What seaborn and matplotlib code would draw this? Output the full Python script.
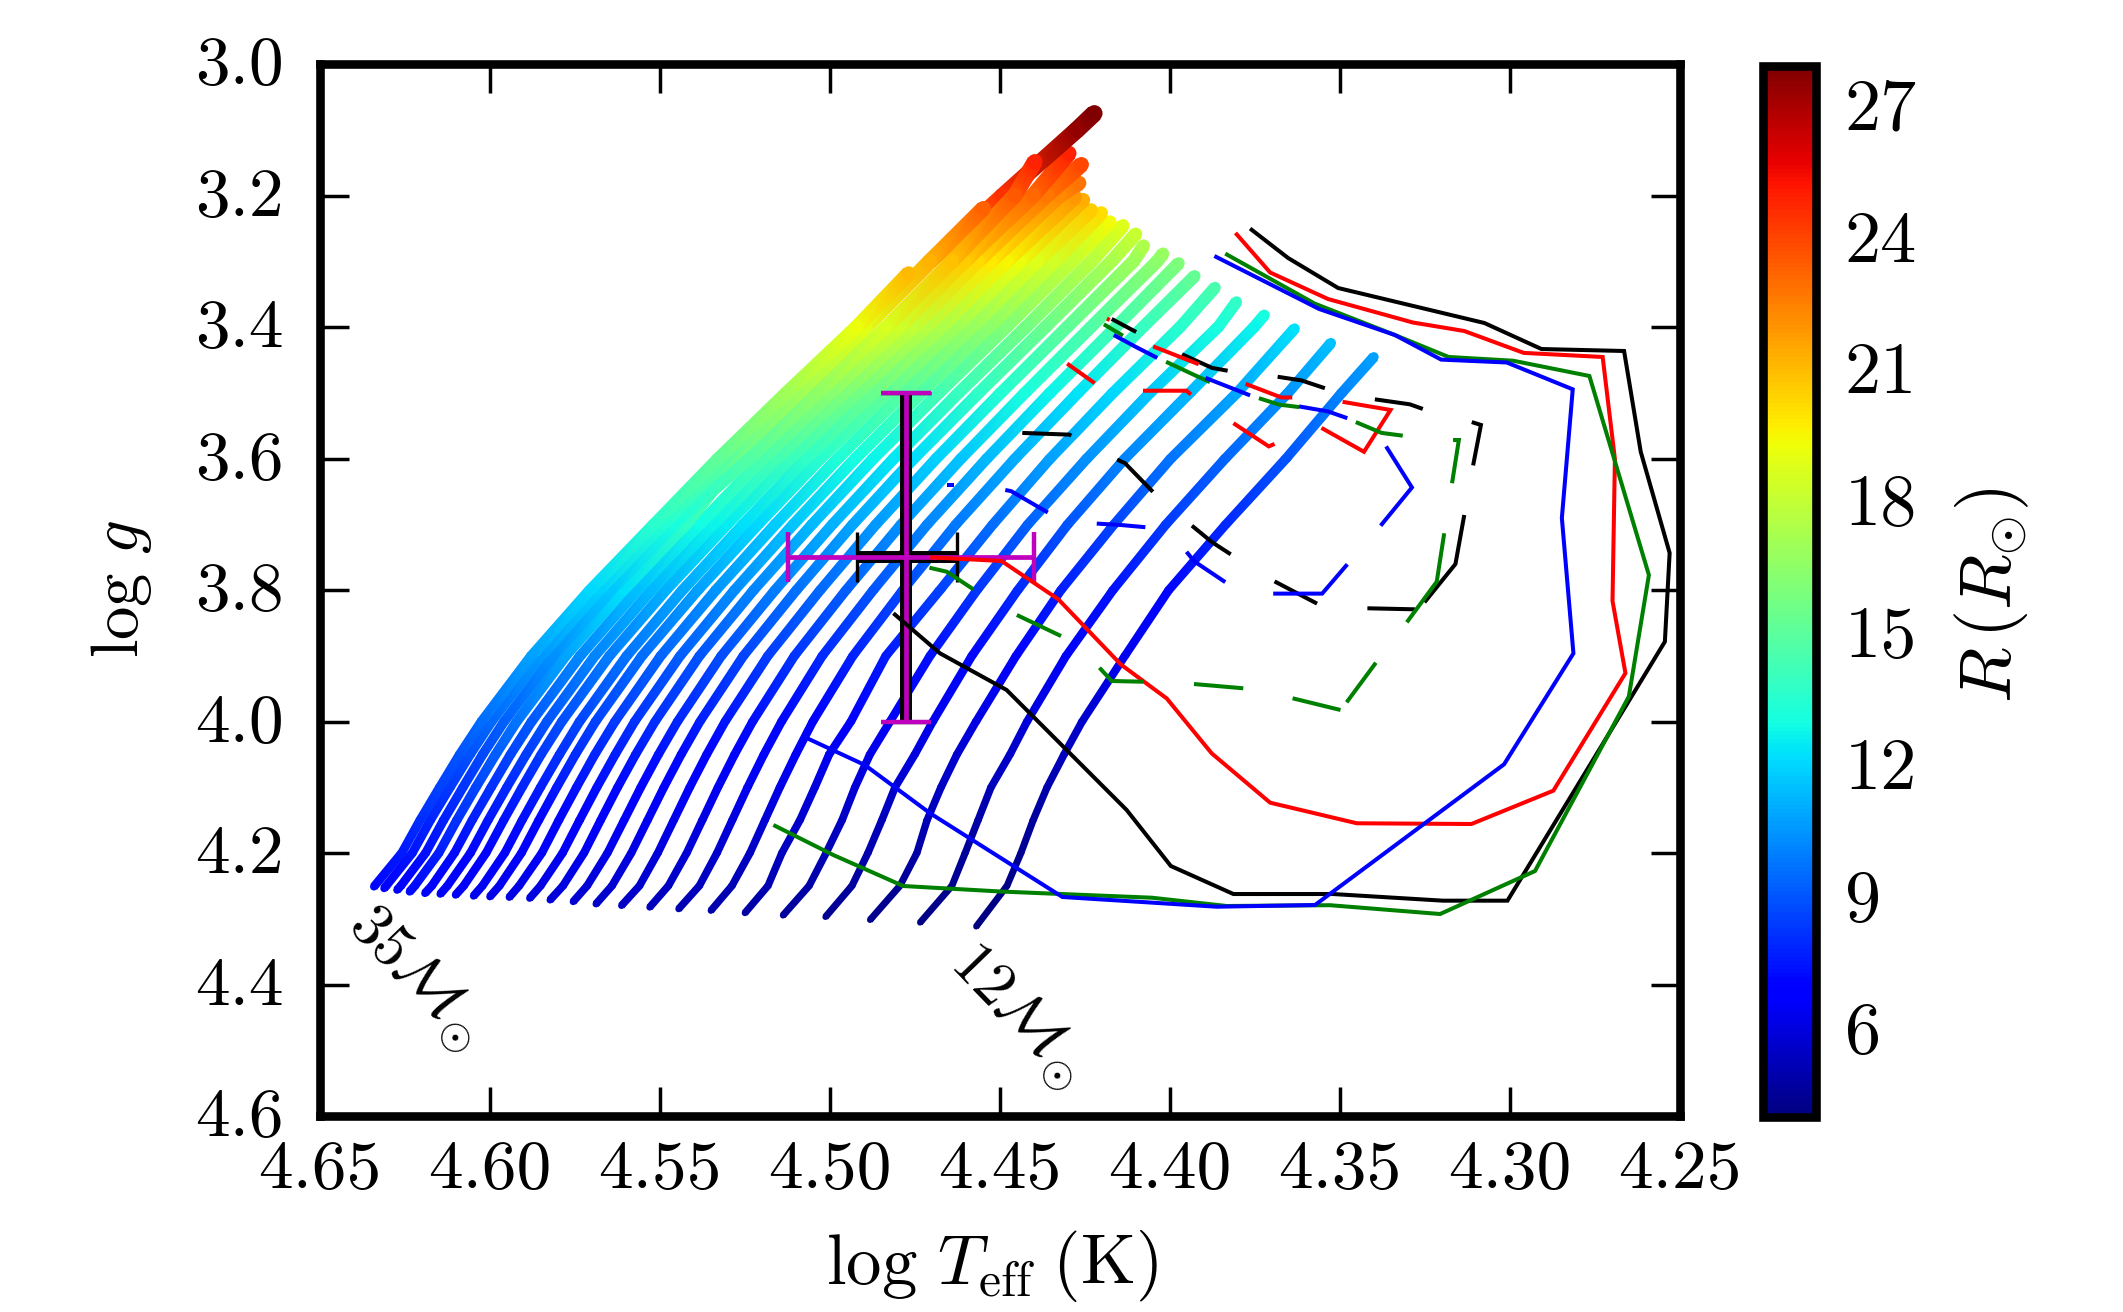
import numpy as np
import pandas as pd
import matplotlib
matplotlib.use("Agg")
import matplotlib.pyplot as plt
from matplotlib.colors import Normalize
from matplotlib.cm import ScalarMappable
from matplotlib.transforms import ScaledTranslation
import seaborn as sns

nan = float("nan")

# ---- evolutionary tracks: mass, start / end log g, shared log g levels
MASSES = list(range(12, 32)) + [35, 32, 33, 34]
START_G = [4.3121, 4.3060, 4.3019, 4.2973, 4.2950, 4.2913, 4.2877, 4.2852, 4.2826, 4.2801, 4.2776, 4.2741,
           4.2715, 4.2689, 4.2674, 4.2665, 4.2654, 4.2639, 4.2624, 4.2613, 4.2589, 4.2563, 4.2538, 4.2512]
END_G = [3.4456, 3.4243, 3.4024, 3.3817, 3.3617, 3.3399, 3.3224, 3.3030, 3.2884, 3.2763, 3.2586, 3.2459,
         3.2403, 3.2266, 3.2221, 3.2068, 3.2023, 3.1810, 3.1529, 3.1358, 3.0750, 3.1486, 3.2195, 3.3183]
LEVELS_G = [4.25, 4.2, 4.15, 4.1, 4.05, 4.0, 3.9, 3.8, 3.7, 3.6, 3.5, 3.4, 3.3, 3.2, 3.1]

T12 = [4.4569, 4.4478, 4.4437, 4.4401, 4.4360, 4.4310, 4.4257, 4.4131, 4.4002, 4.3834, 4.3657, 4.3493, 4.3399]
T13 = [4.4734, 4.4640, 4.4601, 4.4563, 4.4525, 4.4469, 4.4419, 4.4304, 4.4166, 4.4010, 4.3836, 4.3651, 4.3525]
T14 = [4.4881, 4.4793, 4.4743, 4.4713, 4.4672, 4.4625, 4.4569, 4.4451, 4.4319, 4.4163, 4.3996, 4.3801, 4.3632]
T15 = [4.5012, 4.4934, 4.4887, 4.4846, 4.4807, 4.4749, 4.4696, 4.4581, 4.4446, 4.4299, 4.4131, 4.3940, 4.3751, 4.3721]
T16 = [4.5137, 4.5060, 4.5010, 4.4963, 4.4925, 4.4881, 4.4822, 4.4704, 4.4566, 4.4416, 4.4243, 4.4057, 4.3857, 4.3803]
T17 = [4.5249, 4.5181, 4.5140, 4.5087, 4.5043, 4.5001, 4.4937, 4.4834, 4.4675, 4.4519, 4.4351, 4.4166, 4.3969, 4.3866]
T18 = [4.5349, 4.5287, 4.5234, 4.5190, 4.5146, 4.5099, 4.5049, 4.4931, 4.4784, 4.4628, 4.4454, 4.4269, 4.4078, 4.3926]
T19 = [4.5444, 4.5383, 4.5331, 4.5286, 4.5241, 4.5193, 4.5141, 4.5021, 4.4871, 4.4712, 4.4537, 4.4351, 4.4158, 4.3973]
T20 = [4.5529, 4.5474, 4.5420, 4.5374, 4.5328, 4.5279, 4.5226, 4.5103, 4.4951, 4.4789, 4.4613, 4.4425, 4.4231, 4.4036, 4.4019]
T21 = [4.5612, 4.5559, 4.5505, 4.5458, 4.5411, 4.5361, 4.5307, 4.5181, 4.5027, 4.4863, 4.4686, 4.4496, 4.4301, 4.4106, 4.4076]
T22 = [4.5687, 4.5640, 4.5583, 4.5535, 4.5487, 4.5436, 4.5381, 4.5253, 4.5097, 4.4931, 4.4752, 4.4561, 4.4365, 4.4171, 4.4099]
T23 = [4.5754, 4.5713, 4.5653, 4.5604, 4.5555, 4.5503, 4.5447, 4.5318, 4.5160, 4.4991, 4.4811, 4.4620, 4.4422, 4.4229, 4.4137]
T24 = [4.5822, 4.5784, 4.5722, 4.5673, 4.5623, 4.5570, 4.5513, 4.5382, 4.5223, 4.5051, 4.4871, 4.4678, 4.4480, 4.4286, 4.4175]
T25 = [4.5882, 4.5850, 4.5785, 4.5735, 4.5684, 4.5630, 4.5573, 4.5439, 4.5279, 4.5106, 4.4924, 4.4730, 4.4531, 4.4338, 4.4201]
T26 = [4.5942, 4.5913, 4.5846, 4.5796, 4.5744, 4.5690, 4.5631, 4.5496, 4.5334, 4.5159, 4.4976, 4.4782, 4.4581, 4.4389, 4.4231]
T27 = [4.5999, 4.5971, 4.5906, 4.5855, 4.5802, 4.5747, 4.5688, 4.5551, 4.5387, 4.5210, 4.5027, 4.4831, 4.4630, 4.4439, 4.4254]
T28 = [4.6047, 4.6021, 4.5955, 4.5904, 4.5850, 4.5794, 4.5735, 4.5596, 4.5432, 4.5253, 4.5069, 4.4872, 4.4671, 4.4479, 4.4278]
T29 = [4.6100, 4.6076, 4.6010, 4.5958, 4.5904, 4.5848, 4.5787, 4.5647, 4.5481, 4.5301, 4.5116, 4.4919, 4.4716, 4.4525, 4.4324, 4.4266]
T30 = [4.6145, 4.6124, 4.6056, 4.6004, 4.5949, 4.5892, 4.5831, 4.5690, 4.5523, 4.5341, 4.5155, 4.4957, 4.4754, 4.4564, 4.4362, 4.4259]
T31 = [4.6190, 4.6170, 4.6103, 4.6051, 4.5995, 4.5938, 4.5876, 4.5733, 4.5565, 4.5382, 4.5195, 4.4997, 4.4793, 4.4603, 4.4401, 4.4296]
T32 = [4.6235, 4.6220, 4.6149, 4.6096, 4.6040, 4.5982, 4.5920, 4.5776, 4.5606, 4.5422, 4.5268, 4.5068, 4.4893, 4.4704, 4.4490, 4.4272, 4.4221]
T33 = [4.6272, 4.6261, 4.6188, 4.6135, 4.6078, 4.6020, 4.5957, 4.5812, 4.5641, 4.5456, 4.5235, 4.5035, 4.4833, 4.4640, 4.4455, 4.4396]
T34 = [4.6310, 4.6304, 4.6227, 4.6174, 4.6116, 4.6057, 4.5994, 4.5848, 4.5676, 4.5489, 4.5301, 4.5100, 4.4895, 4.4705, 4.4547]
T35 = [4.6340, 4.6258, 4.6204, 4.6146, 4.6087, 4.6023, 4.5876, 4.5704, 4.5516, 4.5327, 4.5126, 4.4920, 4.4767]
TRACKS_T = [T12, T13, T14, T15, T16, T17, T18, T19, T20, T21, T22, T23, T24, T25, T26, T27, T28, T29, T30, T31, T32, T33, T34, T35]

# ---- solid loci
BLACK_T = [4.4812, 4.4675, 4.4479, 4.4126, 4.3996, 4.3812, 4.3519, 4.3196, 4.3006, 4.2543, 4.2529, 4.2614, 4.2663, 4.2906, 4.3074, 4.3504, 4.3651, 4.3763]
BLACK_G = [3.8354, 3.8963, 3.9521, 4.1346, 4.2198, 4.2624, 4.2624, 4.2725, 4.2725, 3.8786, 3.7437, 3.5898, 3.4365, 3.4335, 3.3939, 3.3407, 3.2951, 3.2503]
RED_T = [4.4704, 4.4494, 4.4327, 4.4143, 4.4008, 4.3876, 4.3704, 4.3449, 4.3112, 4.2871, 4.2659, 4.2697, 4.2690, 4.2726, 4.2958, 4.3133, 4.3284, 4.3534, 4.3704, 4.3806]
RED_G = [3.7503, 3.7559, 3.8141, 3.9133, 3.9650, 4.0484, 4.1235, 4.1548, 4.1559, 4.1052, 3.9265, 3.8167, 3.6008, 3.4456, 3.4394, 3.4061, 3.3932, 3.3574, 3.3171, 3.2569]
GREEN_T = [4.5165, 4.4989, 4.4783, 4.4496, 4.4052, 4.3832, 4.3528, 4.3204, 4.2925, 4.2649, 4.2590, 4.2765, 4.2989, 4.3179, 4.3337, 4.3573, 4.3836]
GREEN_G = [4.1574, 4.2030, 4.2502, 4.2586, 4.2680, 4.2806, 4.2794, 4.2928, 4.2274, 3.9620, 3.7772, 3.4745, 3.4513, 3.4456, 3.4122, 3.3644, 3.2884]
BLUE_T = [4.5072, 4.4896, 4.4704, 4.4315, 4.3861, 4.3572, 4.3016, 4.2812, 4.2846, 4.2814, 4.3008, 4.3201, 4.3337, 4.3560, 4.3868]
BLUE_G = [4.0240, 4.0662, 4.1396, 4.2669, 4.2817, 4.2791, 4.0651, 3.8964, 3.6905, 3.4948, 3.4540, 3.4496, 3.4122, 3.3726, 3.2920]

# ---- dashed loci, dashes separated by nan
BLACK_DASH_T = [4.4170, 4.4098, nan, 4.3963, 4.3875, 4.3829, nan, 4.3682, 4.3612, 4.3543, nan, 4.3396, 4.3293, 4.3255, nan,
                4.3111, 4.3084, 4.3107, nan, 4.3133, 4.3159, 4.3250, nan, 4.3418, 4.3278, nan, 4.3691, 4.3566, nan,
                4.3934, 4.3875, 4.3820, nan, 4.4154, 4.4131, 4.4049, nan, 4.4433, 4.4295, 4.4289]
BLACK_DASH_G = [3.3878, 3.4076, nan, 3.4415, 3.4622, 3.4665, nan, 3.4757, 3.4812, 3.4931, nan, 3.5100, 3.5176, 3.5246, nan,
                3.5446, 3.5490, 3.6105, nan, 3.6859, 3.7605, 3.8187, nan, 3.8278, 3.8294, nan, 3.7869, 3.8207, nan,
                3.7022, 3.7272, 3.7457, nan, 3.6017, 3.6071, 3.6506, nan, 3.5611, 3.5637, 3.5653]
RED_DASH_T = [4.4184, 4.4176, nan, 4.4048, 4.3914, nan, 4.3776, 4.3671, 4.3639, nan, 4.3491, 4.3350, 4.3428, 4.3553, nan,
              4.3812, 4.3708, 4.3691, nan, 4.4078, 4.3950, 4.3937, nan, 4.4301, 4.4220]
RED_DASH_G = [3.3872, 3.3893, nan, 3.4295, 3.4567, nan, 3.4865, 3.5072, 3.5072, nan, 3.5138, 3.5262, 3.5898, 3.5535, nan,
              3.5463, 3.5816, 3.5778, nan, 3.4969, 3.4969, 3.5028, nan, 3.4557, 3.4855]
GREEN_DASH_T = [4.4193, 4.4137, nan, 4.4010, 4.3927, 4.3881, nan, 4.3737, 4.3678, 4.3619, nan, 4.3452, 4.3376, 4.3314, nan,
                4.3166, 4.3149, 4.3169, nan, 4.3192, 4.3214, 4.3302, nan, 4.3393, 4.3479, nan, 4.3497, 4.3638, nan,
                4.3783, 4.3928, nan, 4.4077, 4.4170, 4.4206, nan, 4.4319, 4.4449, nan, 4.4577, 4.4655, 4.4706]
GREEN_DASH_G = [3.3959, 3.4132, nan, 3.4529, 3.4730, 3.4838, nan, 3.5083, 3.5180, 3.5218, nan, 3.5446, 3.5611, 3.5653, nan,
                3.5719, 3.5719, 3.6376, nan, 3.7138, 3.7874, 3.8491, nan, 3.9106, 3.9708, nan, 3.9825, 3.9647, nan,
                3.9495, 3.9430, nan, 3.9395, 3.9384, 3.9182, nan, 3.8700, 3.8380, nan, 3.7989, 3.7722, 3.7661]
BLUE_DASH_T = [4.4164, 4.4098, 4.4036, nan, 4.3894, 4.3763, nan, 4.3619, 4.3534, 4.3477, nan, 4.3363, 4.3287, 4.3379, nan,
               4.3477, 4.3551, 4.3695, nan, 4.3836, 4.3927, 4.3950, nan, 4.4071, 4.4144, 4.4214, nan,
               4.4358, 4.4466, 4.4483, nan, 4.4654, 4.4633]
BLUE_DASH_G = [3.4122, 3.4306, 3.4470, nan, 3.4774, 3.5040, nan, 3.5208, 3.5284, 3.5387, nan, 3.5816, 3.6441, 3.7022, nan,
               3.7609, 3.8055, 3.8055, nan, 3.7880, 3.7565, 3.7419, nan, 3.7045, 3.7011, 3.6990, nan,
               3.6821, 3.6496, 3.6479, nan, 3.6403, 3.6403]

# ---- observed point with error bars
OBS_T = 4.4775
OBS_G = 3.75
OBS_G_ERR = 0.25
OBS_T_ERR_WIDE = [0.0377, 0.0347]
OBS_T_ERR_NARROW = [0.0149, 0.0143]

X_TICKS = [4.65, 4.60, 4.55, 4.50, 4.45, 4.40, 4.35, 4.30, 4.25]
X_LABELS = ["4.65", "4.60", "4.55", "4.50", "4.45", "4.40", "4.35", "4.30", "4.25"]
Y_TICKS = [3.0, 3.2, 3.4, 3.6, 3.8, 4.0, 4.2, 4.4, 4.6]
Y_LABELS = ["3.0", "3.2", "3.4", "3.6", "3.8", "4.0", "4.2", "4.4", "4.6"]
CBAR_TICKS = [6, 9, 12, 15, 18, 21, 24, 27]
CBAR_LABELS = ["6", "9", "12", "15", "18", "21", "24", "27"]
R_MIN, R_MAX = 4.09, 28.01

sns.set_style("white")
plt.rcParams["font.family"] = ["cmr10", "DejaVu Sans"]
plt.rcParams["mathtext.fontset"] = "cm"
plt.rcParams["axes.unicode_minus"] = False
plt.rcParams["axes.formatter.use_mathtext"] = True
plt.rcParams["axes.labelcolor"] = "k"
plt.rcParams["text.color"] = "k"

W, H = 2123, 1312
fig = plt.figure(figsize=(W / 100, H / 100), dpi=100, facecolor="white")
ax = fig.add_axes([319.5 / W, (H - 1116) / H, 1360 / W, 1052 / H])
ax.set_xlim(4.65, 4.25)
ax.set_ylim(4.6, 3.0)
ax.set_autoscale_on(False)
norm = Normalize(R_MIN, R_MAX)
jet = plt.get_cmap("jet")


def ribbon(t, g, r, z):
    """Thick colour-graded band through the read vertices (Gouraud shaded)."""
    pts = ax.transData.transform(np.c_[t, g])
    tang = np.gradient(pts, axis=0)
    tang /= np.linalg.norm(tang, axis=1, keepdims=True)
    nrm = np.c_[-tang[:, 1], tang[:, 0]]
    half = (1.3 * r ** 0.55)[:, None]
    a = ax.transData.inverted().transform(pts + nrm * half)
    b = ax.transData.inverted().transform(pts - nrm * half)
    n = len(t)
    tris = []
    for i in range(n - 1):
        tris += [[i, i + 1, n + i], [i + 1, n + i + 1, n + i]]
    ax.tripcolor(np.r_[a[:, 0], b[:, 0]], np.r_[a[:, 1], b[:, 1]], np.array(tris), np.r_[r, r],
                 shading="gouraud", cmap=jet, norm=norm, zorder=z)


for i, (m, gs, ge, tt) in enumerate(zip(MASSES, START_G, END_G, TRACKS_T)):
    lv = [v for v in LEVELS_G if gs > v + 0.002 and v > ge]
    g = np.array([gs] + lv + [ge])
    t = np.array(tt)
    r = np.sqrt(m * 10 ** (4.438 - g))       # radius follows from mass and gravity
    z = 2 + i * 0.02
    ribbon(t, g, r, z)
    sns.scatterplot(data=pd.DataFrame({"logT": t, "logg": g, "R": r, "area": 3.5 * r ** 1.1}), x="logT", y="logg",
                    hue="R", hue_norm=norm, palette=jet, size="area", size_norm=(0, 500), sizes=(0, 500),
                    linewidth=0, legend=False, ax=ax, zorder=z + 0.01)

# error bars
ax.errorbar([OBS_T], [OBS_G], xerr=[[OBS_T_ERR_NARROW[0]], [OBS_T_ERR_NARROW[1]]], yerr=OBS_G_ERR, color="k",
            elinewidth=8.6, capsize=17.8, capthick=2.4, zorder=5)
ax.errorbar([OBS_T], [OBS_G], xerr=[[OBS_T_ERR_WIDE[0]], [OBS_T_ERR_WIDE[1]]], yerr=OBS_G_ERR, color=(0.75, 0, 0.75),
            elinewidth=3.4, capsize=17.8, capthick=3.2, zorder=5.1)

line_kw = dict(linewidth=2.9, solid_capstyle="butt", solid_joinstyle="miter", estimator=None, sort=False, ax=ax, legend=False)
for xs, ys, col in [(BLACK_T, BLACK_G, "k"), (RED_T, RED_G, "r"), (GREEN_T, GREEN_G, (0, 0.5, 0)), (BLUE_T, BLUE_G, "b")]:
    sns.lineplot(x=xs, y=ys, color=col, zorder=6, **line_kw)

for xs, ys, col in [(BLACK_DASH_T, BLACK_DASH_G, "k"), (RED_DASH_T, RED_DASH_G, "r"),
                    (GREEN_DASH_T, GREEN_DASH_G, (0, 0.5, 0)), (BLUE_DASH_T, BLUE_DASH_G, "b")]:
    d = pd.DataFrame({"t": xs, "g": ys})
    d["seg"] = d["t"].isna().cumsum()
    d = d.dropna()
    sns.lineplot(data=d, x="t", y="g", units="seg", color=col, zorder=6, **line_kw)

ax.text(4.6215, 4.39, r"$35\mathcal{M}_{\odot}$", rotation=-46, rotation_mode="anchor", ha="center", va="center",
        fontsize=44, color="k", zorder=7)
ax.text(4.4445, 4.4477, r"$12\mathcal{M}_{\odot}$", rotation=-46, rotation_mode="anchor", ha="center", va="center",
        fontsize=44, color="k", zorder=7)

ax.set_xticks(X_TICKS)
ax.set_xticklabels(X_LABELS)
ax.set_yticks(Y_TICKS)
ax.set_yticklabels(Y_LABELS)
ax.tick_params(axis="both", which="major", direction="in", length=21, width=2.5, top=True, right=True,
               bottom=True, left=True, labelsize=50, color="k", labelcolor="k")
ax.tick_params(axis="x", pad=17)
ax.tick_params(axis="y", pad=26)
for s in ax.spines.values():
    s.set_linewidth(6.2)
    s.set_color("k")
    s.set_visible(True)
    s.set_zorder(8)
ax.set_xlabel(r"$\log\,T_{\mathrm{eff}}\;(\mathrm{K})$", fontsize=51, va="center", color="k")
ax.set_ylabel(r"$\log\,g$", fontsize=48, va="center", color="k")
ax.xaxis.set_label_coords((992 - 319.5) / 1360, (1116 - 1266) / 1052)
ax.yaxis.set_label_coords((122 - 319.5) / 1360, (1116 - 589) / 1052)

cax = fig.add_axes([1762.5 / W, (H - 1117) / H, 53 / W, 1051 / H])
cbar = fig.colorbar(ScalarMappable(norm=norm, cmap=jet), cax=cax, ticks=CBAR_TICKS)
cbar.ax.set_yticklabels(CBAR_LABELS)
cbar.outline.set_linewidth(6.2)
cbar.outline.set_edgecolor("k")
cax.tick_params(axis="y", direction="in", length=21, width=1.5, labelsize=52, pad=21, color="k", labelcolor="k",
                right=True, left=False)
cbar.set_label(r"$R\,(R_{\odot})$", fontsize=52, rotation=90, va="center", ha="center", color="k")
cax.yaxis.set_label_coords((1992 - 1762.5) / 53, (1117 - 595) / 1051)

# nudge the serif tick labels up so they centre on their ticks
for lbl in ax.get_yticklabels():
    lbl.set_transform(lbl.get_transform() + ScaledTranslation(0, 0.04, fig.dpi_scale_trans))
for lbl in cax.get_yticklabels():
    lbl.set_transform(lbl.get_transform() + ScaledTranslation(0, 0.06, fig.dpi_scale_trans))

fig.savefig("out.png", dpi=100, facecolor="white")
